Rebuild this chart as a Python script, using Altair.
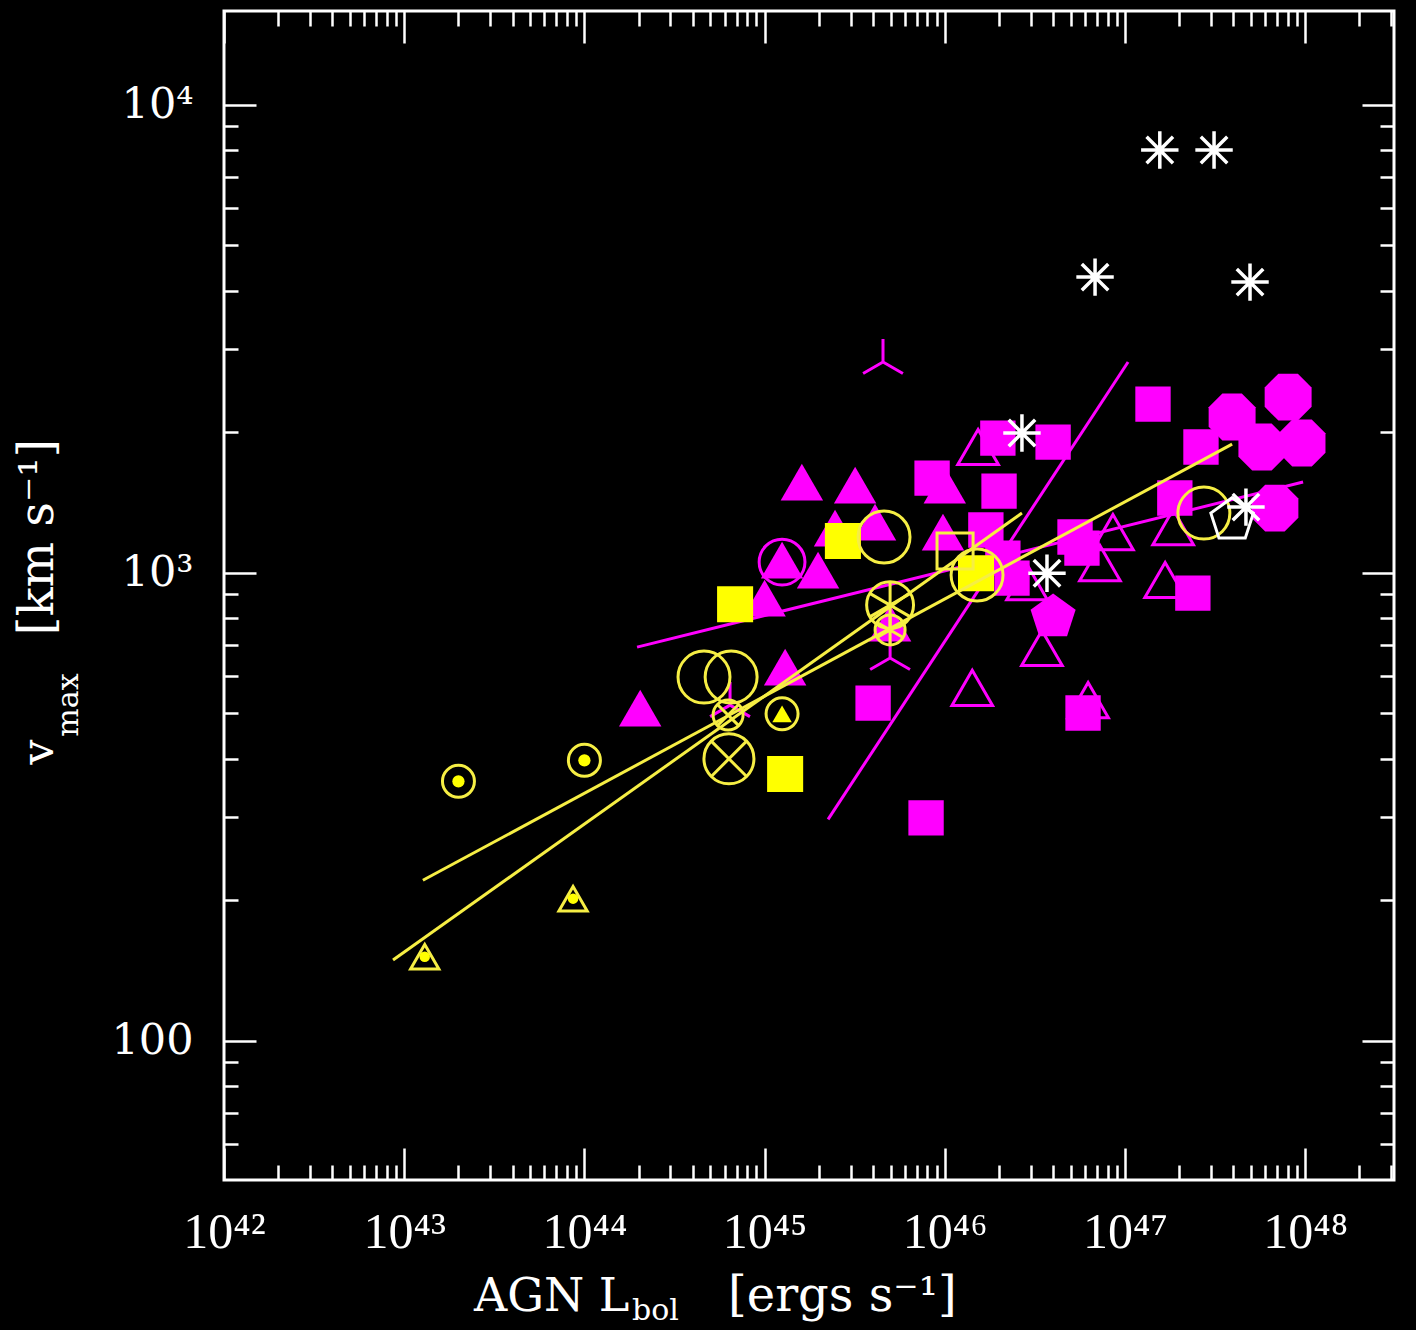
import altair as alt
import pandas as pd

# ---------------- values ----------------
x_domain = [1e42, 3.11e48]
y_domain = [50.35, 15849]
x_major = [1e42, 1e43, 1e44, 1e45, 1e46, 1e47, 1e48]
x_tick_labels = ["10⁴²", "10⁴³", "10⁴⁴", "10⁴⁵", "10⁴⁶", "10⁴⁷", "10⁴⁸"]
x_minor = [m * 10.0 ** e for e in range(42, 49) for m in range(2, 10) if m * 10.0 ** e <= 3.11e48]
y_major = [100, 1000, 10000]
y_tick_labels = ["100", "10³", "10⁴"]
y_minor = [60, 70, 80, 90, 200, 300, 400, 500, 600, 700, 800, 900,
           2000, 3000, 4000, 5000, 6000, 7000, 8000, 9000]

# yellow sample
y_sq_L = [6.86e44, 1.30e45, 2.72e45, 1.49e46]
y_sq_v = [856, 371, 1168, 997]
y_osq_L = [1.14e46]
y_osq_v = [1112]
y_circ_L = [4.61e44, 6.52e44, 4.60e45, 1.51e46, 2.74e47]
y_circ_v = [598, 598, 1191, 988, 1340]
y_cdot_L = [2.0e43, 1.0e44]
y_cdot_v = [358, 397]
y_tdot_L = [1.30e43, 8.65e43]
y_tdot_v = [151, 201]
y_ctri_L = [1.25e45]
y_ctri_v = [499]
y_bigx_L = [6.34e44]
y_bigx_v = [400]
y_smallx_L = [6.27e44]
y_smallx_v = [496]
y_bigstar_L = [4.97e45]
y_bigstar_v = [852]
y_smallstar_L = [4.97e45]
y_smallstar_v = [754]

# magenta sample
m_sq_L = [4.00e45, 7.87e45, 8.50e45, 1.97e46, 3.99e46, 2.00e46, 1.69e46, 2.10e46,
          2.36e46, 5.28e46, 5.77e46, 1.89e47, 1.43e47, 2.64e47, 2.38e47, 5.85e46]
m_sq_v = [526, 299, 1592, 1938, 1900, 1493, 1233, 1074,
          973, 1191, 1128, 1443, 2291, 1855, 904, 501]
m_tri_L = [2.04e44, 1.61e45, 3.18e45, 2.46e45, 4.10e45, 1.25e45, 1.98e45, 1.00e45,
           1.30e45, 4.97e45, 1.00e46, 9.77e45]
m_tri_v = [513, 1561, 1538, 1245, 1282, 1063, 1012, 882, 628, 780, 1538, 1220]
m_otri_L = [1.53e46, 2.86e46, 8.57e46, 7.26e46, 1.85e47, 1.67e47, 3.46e46, 1.42e46, 6.24e46]
m_otri_v = [1855, 954, 1220, 1048, 1251, 964, 690, 567, 534]
m_oct_L = [8.04e47, 3.93e47, 5.75e47, 9.60e47, 6.79e47]
m_oct_v = [2371, 2149, 1855, 1891, 1373]
m_pent_L = [3.99e46]
m_pent_v = [803]
m_ocirc_L = [1.25e45]
m_ocirc_v = [1053]
m_tristar_L = [4.54e45, 4.97e45, 6.43e44]
m_tristar_v = [2818, 657, 521]

# white sample
w_star_L = [1.56e47, 3.12e47, 6.82e46, 4.94e47, 2.68e46, 3.69e46, 4.69e47]
w_star_v = [7995, 7995, 4279, 4175, 1987, 997, 1380]
w_pent_L = [3.93e47]
w_pent_v = [1295]

# fitted lines (end points)
fit_y1_L = [8.67e42, 2.68e46]
fit_y1_v = [148.6, 1340]
fit_y2_L = [1.27e43, 3.93e47]
fit_y2_v = [220, 1882]
fit_m1_L = [1.96e44, 9.73e47]
fit_m1_v = [693, 1561]
fit_m2_L = [2.25e45, 1.04e47]
fit_m2_v = [297, 2818]

# titles
x_title_main = ["AGN L"]
x_title_sub = ["bol"]
x_title_unit = ["[ergs s⁻¹]"]
y_title_main = ["v"]
y_title_sub = ["max"]
y_title_unit = ["[km s⁻¹]"]

# ---------------- styling ----------------
W, H = 1170, 1169
MAG = "#ff00ff"
YEL = "#ffff00"
YEL_S = "#f6ee44"
WHT = "#ffffff"

XS = alt.Scale(type="log", domain=x_domain, nice=False)
YS = alt.Scale(type="log", domain=y_domain, nice=False)

STAR8 = "M-1,0L1,0M0,-1L0,1M-0.707,-0.707L0.707,0.707M-0.707,0.707L0.707,-0.707"
STAR6 = "M0,-1L0,1M-0.866,-0.5L0.866,0.5M-0.866,0.5L0.866,-0.5"
XCROSS = "M-0.707,-0.707L0.707,0.707M-0.707,0.707L0.707,-0.707"
TRISTAR = "M0,0L0,-1M0,0L-0.866,0.5M0,0L0.866,0.5"
PENT = "M0,-1L0.951,-0.309L0.588,0.809L-0.588,0.809L-0.951,-0.309Z"
OCT = ("M0.924,0.383L0.383,0.924L-0.383,0.924L-0.924,0.383"
       "L-0.924,-0.383L-0.383,-0.924L0.383,-0.924L0.924,-0.383Z")

x_label_expr = "[" + ",".join("'%s'" % s for s in x_tick_labels) + "][round(log(datum.value)/LN10)-42]"
y_label_expr = "[" + ",".join("'%s'" % s for s in y_tick_labels) + "][round(log(datum.value)/LN10)-2]"

common = dict(grid=False, domain=False, title=None)
tick_style = dict(labels=False, tickWidth=2.5, tickColor="white", **common)

ax_x_labels = alt.Axis(orient="bottom", values=x_major, labelExpr=x_label_expr, ticks=False,
                       tickSize=0, labelFont="Liberation Serif", labelFontSize=50,
                       labelColor="white", labelPadding=27, labelFlush=False,
                       labelOverlap=False, labelAngle=0, **common)
ax_y_labels = alt.Axis(orient="left", values=y_major, labelExpr=y_label_expr, ticks=False,
                       tickSize=0, labelFont="DejaVu Serif", labelFontSize=43,
                       labelColor="white", labelPadding=31, labelFlush=False,
                       labelOverlap=False, **common)
x_axes = [
    ax_x_labels,
    alt.Axis(orient="top", offset=-H, values=x_major, tickSize=32, **tick_style),
    alt.Axis(orient="top", offset=-H, values=x_minor, tickSize=15, **tick_style),
    alt.Axis(orient="bottom", offset=-H, values=x_major, tickSize=32, **tick_style),
    alt.Axis(orient="bottom", offset=-H, values=x_minor, tickSize=15, **tick_style),
]
y_axes = [
    ax_y_labels,
    alt.Axis(orient="right", offset=-W, values=y_major, tickSize=32, **tick_style),
    alt.Axis(orient="right", offset=-W, values=y_minor, tickSize=14, **tick_style),
    alt.Axis(orient="left", offset=-W, values=y_major, tickSize=32, **tick_style),
    alt.Axis(orient="left", offset=-W, values=y_minor, tickSize=14, **tick_style),
]


def enc(chart, xax=None, yax=None):
    return chart.encode(x=alt.X("L:Q", scale=XS, axis=xax),
                        y=alt.Y("v:Q", scale=YS, axis=yax))


def pts(L, v, shape, size, color, filled, sw=3):
    df = pd.DataFrame({"L": L, "v": v})
    mk = dict(shape=shape, size=size, color=color, filled=filled, opacity=1)
    if not filled:
        mk["strokeWidth"] = sw
    return alt.Chart(df).mark_point(**mk)


def line(L, v, color):
    df = pd.DataFrame({"L": L, "v": v})
    return alt.Chart(df).mark_line(color=color, strokeWidth=3)


raw_layers = [
    # magenta
    pts(m_sq_L, m_sq_v, "square", 1250, MAG, True),
    pts(m_tri_L, m_tri_v, "triangle-up", 1800, MAG, True),
    pts(m_otri_L, m_otri_v, "triangle-up", 1650, MAG, False, 3),
    pts(m_oct_L, m_oct_v, OCT, 2580, MAG, True),
    pts(m_pent_L, m_pent_v, PENT, 2245, MAG, True),
    pts(m_ocirc_L, m_ocirc_v, "circle", 2100, MAG, False, 3),
    pts(m_tristar_L, m_tristar_v, TRISTAR, 2116, MAG, False, 3),
    line(fit_m1_L, fit_m1_v, MAG),
    line(fit_m2_L, fit_m2_v, MAG),
    # yellow
    pts(y_sq_L, y_sq_v, "square", 1300, YEL, True),
    pts(y_osq_L, y_osq_v, "square", 1300, YEL_S, False, 3),
    pts(y_circ_L, y_circ_v, "circle", 2700, YEL_S, False, 3),
    pts(y_cdot_L, y_cdot_v, "circle", 1024, YEL_S, False, 3),
    pts(y_cdot_L, y_cdot_v, "circle", 150, YEL, True),
    pts(y_tdot_L, y_tdot_v, "triangle-up", 800, YEL_S, False, 3),
    pts(y_tdot_L, y_tdot_v, "circle", 110, YEL, True),
    pts(y_ctri_L, y_ctri_v, "circle", 1024, YEL_S, False, 3),
    pts(y_ctri_L, y_ctri_v, "triangle-up", 380, YEL, True),
    pts(y_bigx_L, y_bigx_v, "circle", 2500, YEL_S, False, 3),
    pts(y_bigx_L, y_bigx_v, XCROSS, 2500, YEL_S, False, 3),
    pts(y_smallx_L, y_smallx_v, "circle", 900, YEL_S, False, 3),
    pts(y_smallx_L, y_smallx_v, XCROSS, 900, YEL_S, False, 3),
    pts(y_bigstar_L, y_bigstar_v, "circle", 2200, YEL_S, False, 3),
    pts(y_bigstar_L, y_bigstar_v, STAR6, 2200, YEL_S, False, 3),
    pts(y_smallstar_L, y_smallstar_v, "circle", 900, YEL_S, False, 3),
    pts(y_smallstar_L, y_smallstar_v, STAR6, 900, YEL_S, False, 3),
    line(fit_y1_L, fit_y1_v, YEL_S),
    line(fit_y2_L, fit_y2_v, YEL_S),
    # white
    pts(w_pent_L, w_pent_v, PENT, 2000, WHT, False, 3),
    pts(w_star_L, w_star_v, STAR8, 1400, WHT, False, 3.5),
]

layers = []
for i, ch in enumerate(raw_layers):
    if i < len(x_axes):
        layers.append(enc(ch, x_axes[i], y_axes[i]))
    else:
        layers.append(enc(ch))


def txt(t, x, y, size, align="left", baseline="alphabetic", angle=0):
    df = pd.DataFrame({"t": t})
    mk = dict(font="DejaVu Serif", fontSize=size, color="white", align=align,
              baseline=baseline)
    if angle:
        mk["angle"] = angle
    return alt.Chart(df).mark_text(**mk).encode(text="t:N", x=alt.value(x), y=alt.value(y))


# title pieces (positions relative to the plot area)
layers += [
    txt(x_title_main, 250, 1300, 46),
    txt(x_title_sub, 408, 1309, 30),
    txt(x_title_unit, 504, 1300, 48),
    txt(y_title_main, -171, 741, 44, align="center", angle=270),
    txt(y_title_sub, -146, 694, 30, align="center", angle=270),
    txt(y_title_unit, -171, 526, 48, align="center", angle=270),
]

chart = (
    alt.layer(*layers)
    .resolve_axis(x="independent", y="independent")
    .properties(width=W, height=H,
                padding={"left": 224, "top": 11, "right": 22, "bottom": 150},
                autosize=alt.AutoSizeParams(type="none"),
                background="black")
    .configure_view(stroke="white", strokeWidth=3)
)

chart.save("out.html", embed_options={"renderer": "svg", "actions": False})
